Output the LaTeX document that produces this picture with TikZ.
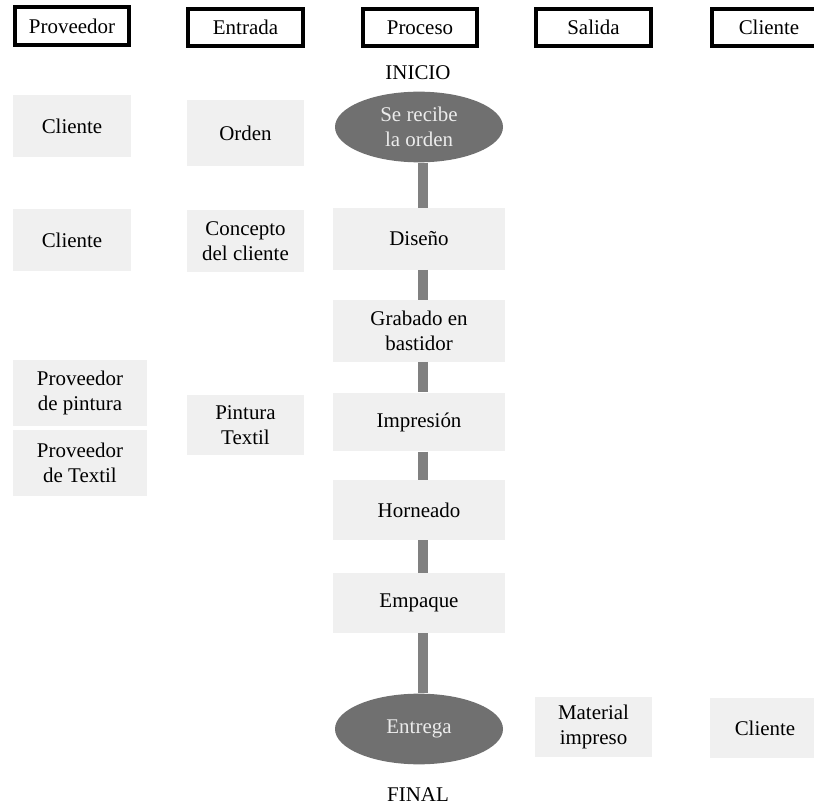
\documentclass[tikz,border=0pt]{standalone}
\usepackage{fontspec}
\setmainfont{Liberation Serif}
\usepackage{tikz}
\usetikzlibrary{shapes}

\definecolor{softgray}{RGB}{240,240,240}
\definecolor{ovalgray}{RGB}{112,112,112}
\definecolor{ovaltext}{RGB}{236,236,236}
\definecolor{bargray}{RGB}{128,128,128}

\tikzset{
  hdr/.style={draw, line width=2.8pt, minimum width=86pt, minimum height=28pt, inner sep=0pt},
  soft/.style={fill=softgray, align=center, minimum width=88pt, minimum height=46pt, inner sep=2pt},
  procbox/.style={soft, minimum width=129pt},
  oval/.style={ellipse, fill=ovalgray, text=ovaltext, align=center, minimum width=126pt, minimum height=53pt, inner sep=0pt},
  bar/.style={draw=bargray, line width=7.5pt},
}

\begin{document}
\begin{tikzpicture}[x=0.75pt,y=0.75pt,yscale=-1,xscale=1,font=\fontsize{15.7}{19}\selectfont]
\useasboundingbox (0,0) rectangle (814,805);
% encabezados
\node[hdr] (hprov) at (72,26) {Proveedor};
\node[hdr] (hent) at (245.5,27.5) {Entrada};
\node[hdr] (hproc) at (420,27.5) {Proceso};
\node[hdr] (hsal) at (593.5,27.5) {Salida};
\node[hdr] (hcli) at (769,27.5) {Cliente};
% proveedores
\node[soft] (prov1) at (72,126) {Cliente};
\node[soft] (prov2) at (72,240) {Cliente};
\node[soft, minimum width=100pt, minimum height=50pt] (prov3) at (80,393) {Proveedor\\de pintura};
\node[soft, minimum width=100pt, minimum height=50pt] (prov4) at (80,463) {Proveedor\\de Textil};
% entradas
\node[soft, minimum height=49pt] (ent1) at (245.5,133) {Orden};
\node[soft] (ent2) at (245.5,241) {Concepto\\del cliente};
\node[soft, minimum height=45pt] (ent3) at (245.5,425) {Pintura\\Textil};
% proceso
\node (inicio) at (418,73) {INICIO};
\node[oval] (recibe) at (419,127) {Se recibe\\la orden};
\node[procbox] (diseno) at (419,239) {Diseño};
\node[procbox] (grabado) at (419,331) {Grabado en\\bastidor};
\node[procbox, minimum height=44pt] (impresion) at (419,422) {Impresión};
\node[procbox, minimum height=45pt] (horneado) at (419,510) {Horneado};
\node[procbox, minimum height=45pt] (empaque) at (419,603) {Empaque};
\node[oval] (entrega) at (419,729) {Entrega};
\node (final) at (418,795) {FINAL};
% salida y cliente
\node[soft, minimum height=45pt] (salida) at (593.5,727) {Material\\impreso};
\node[soft, minimum width=82pt, minimum height=45pt] (cliente) at (765,728) {Cliente};
% conectores
\draw[bar] ([xshift=3pt]recibe.south) -- ([xshift=3pt]diseno.north);
\draw[bar] ([xshift=3pt]diseno.south) -- ([xshift=3pt]grabado.north);
\draw[bar] ([xshift=3pt]grabado.south) -- ([xshift=3pt]impresion.north);
\draw[bar] ([xshift=3pt]impresion.south) -- ([xshift=3pt]horneado.north);
\draw[bar] ([xshift=3pt]horneado.south) -- ([xshift=3pt]empaque.north);
\draw[bar] ([xshift=3pt]empaque.south) -- ([xshift=3pt]entrega.north);
\end{tikzpicture}
\end{document}
